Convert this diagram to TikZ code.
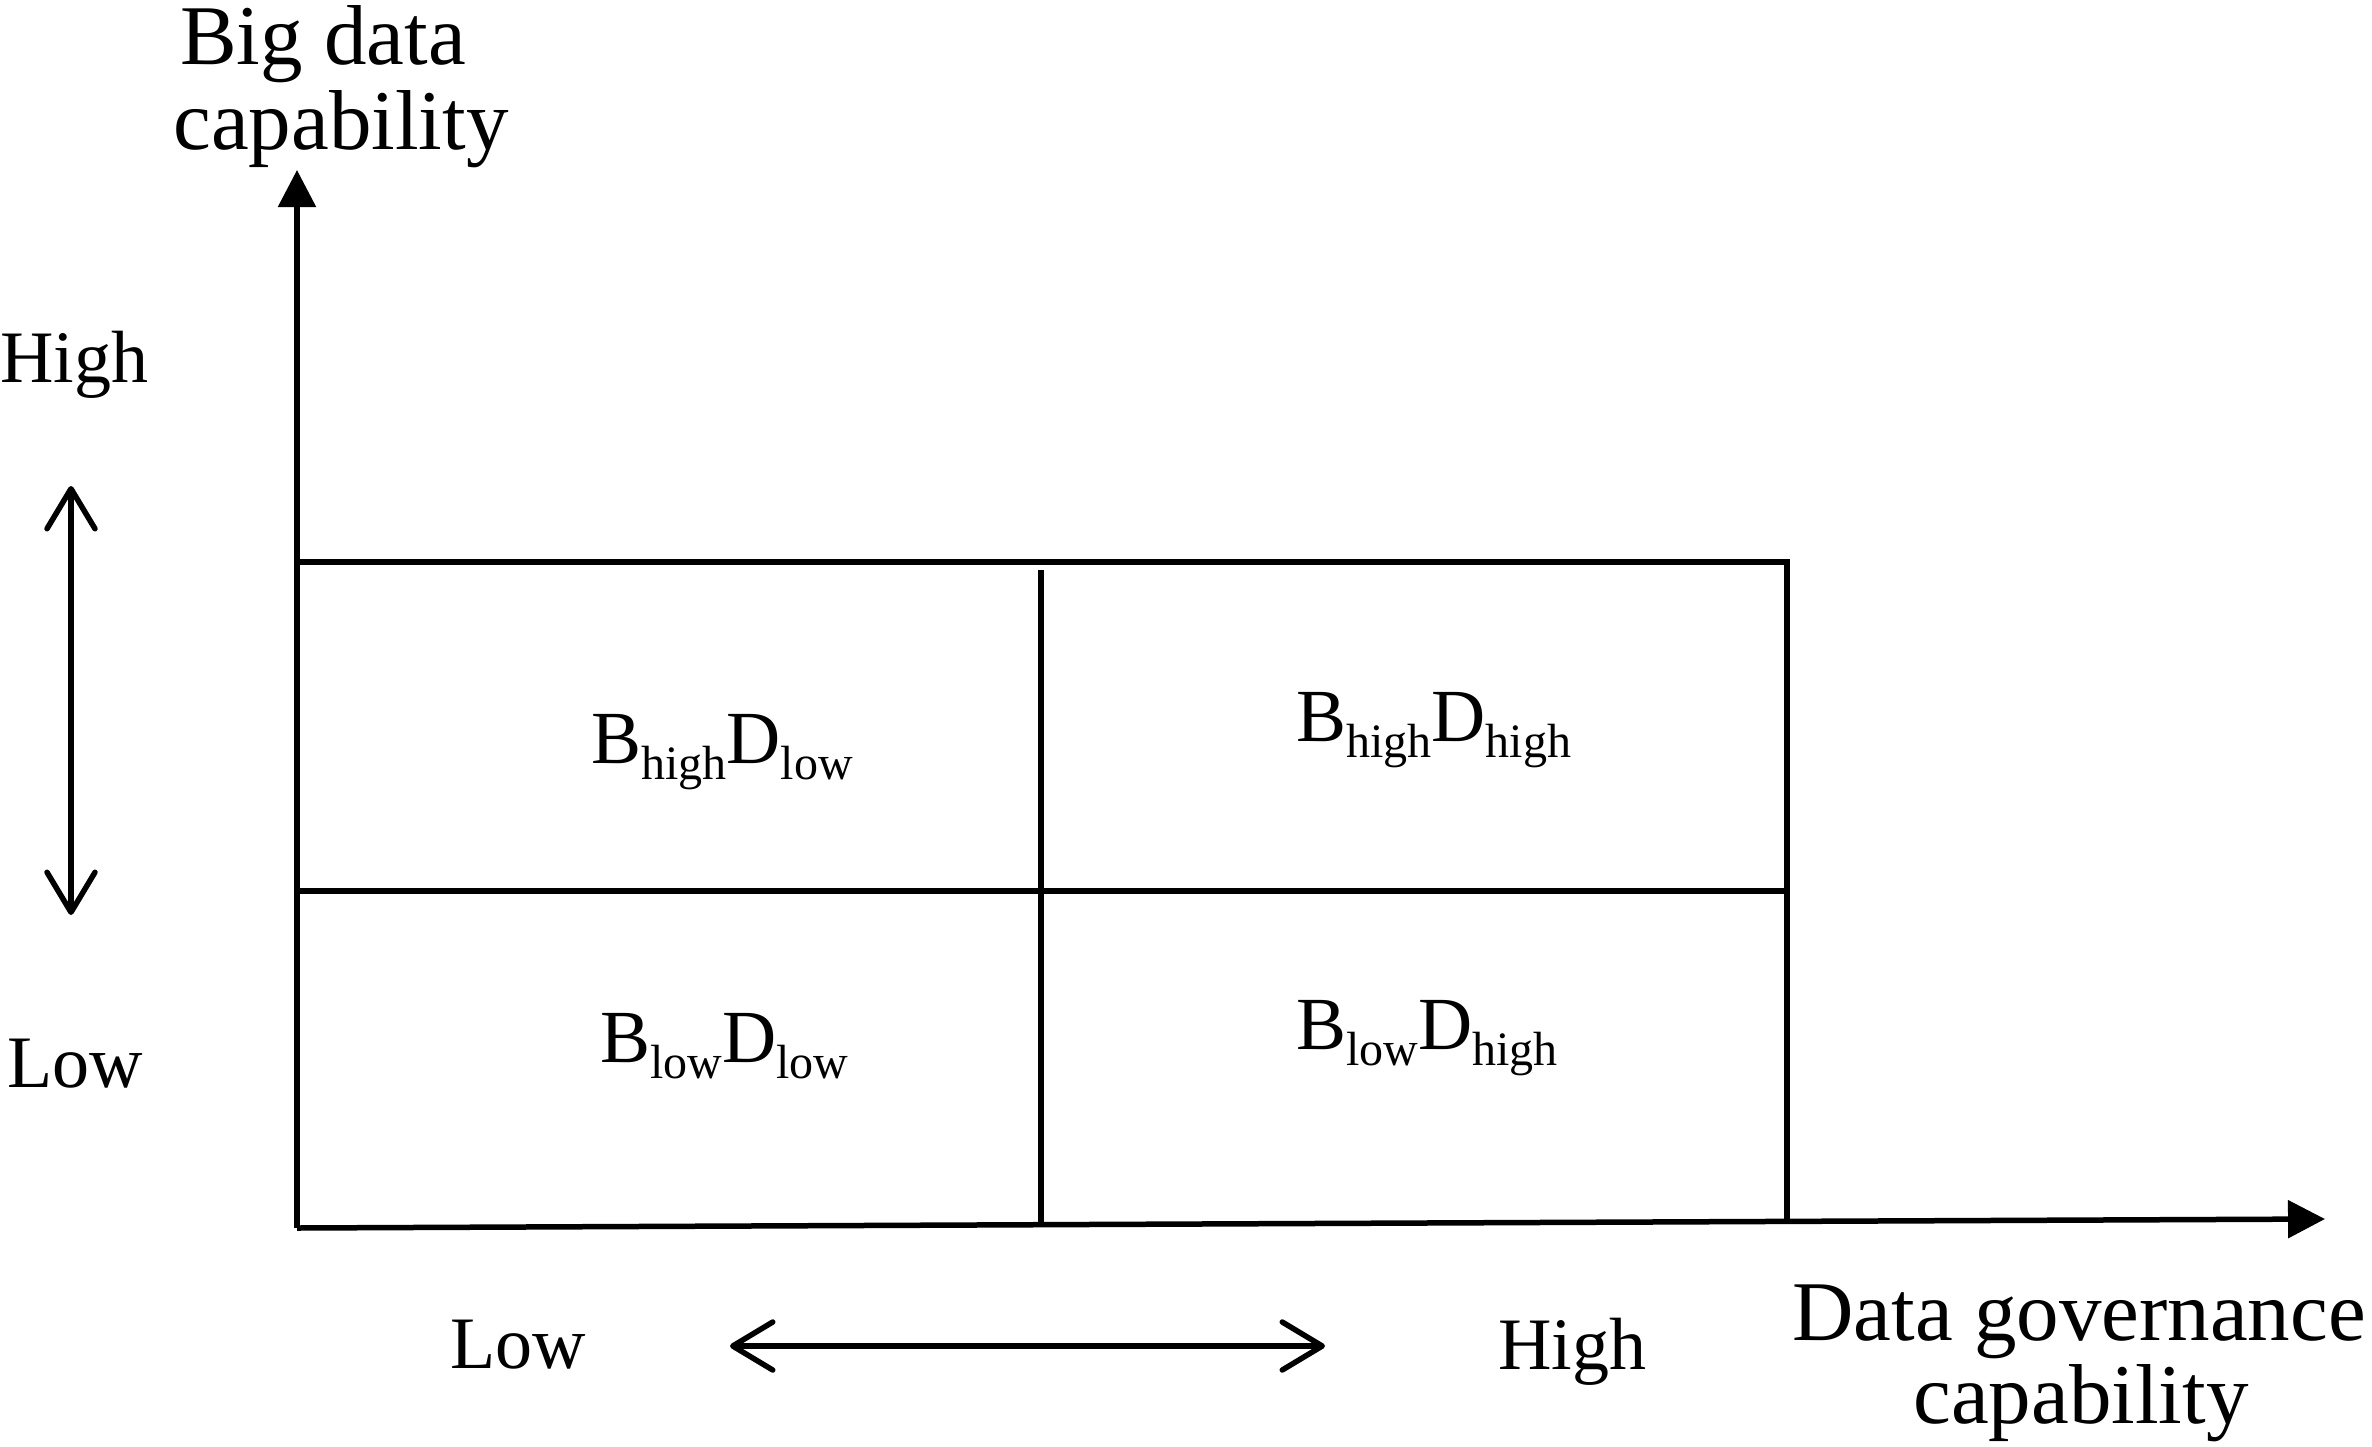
\documentclass[tikz,border=0pt]{standalone}
\usepackage{fontspec}
\setmainfont{Liberation Serif}
\usetikzlibrary{arrows.meta}
\newcommand\qsub[1]{\raisebox{-16pt}{\fontsize{48}{48}\selectfont #1}}
\begin{document}
\begin{tikzpicture}[x=1pt,y=-1pt,
  gridline/.style={line width=5.5pt},
  axisarrow/.style={line width=5.5pt,-{Triangle[length=37pt,width=37pt]}},
  dblarrow/.style={line width=5.5pt,line cap=round,{Straight Barb[length=40pt,width=48pt,round]}-{Straight Barb[length=40pt,width=48pt,round]}},
  biglabel/.style={inner sep=0pt,anchor=base,font=\fontsize{85}{87}\selectfont},
  levellabel/.style={inner sep=0pt,anchor=base west,font=\fontsize{74}{74}\selectfont},
  quadlabel/.style={inner sep=0pt,anchor=base west,font=\fontsize{75}{75}\selectfont}]
\useasboundingbox (0,0) rectangle (2372,1446);

% coordinates
\coordinate (O) at (297,1228);
\coordinate (ytip) at (297,170);
\coordinate (xtip) at (2325,1219);
\coordinate (TL) at (297,562);
\coordinate (TR) at (1787,562);
\coordinate (BR) at (1787,1222);
\coordinate (ML) at (297,891);
\coordinate (MR) at (1787,891);
\coordinate (VT) at (1041,570);
\coordinate (VB) at (1041,1225);
\coordinate (la) at (71,486);
\coordinate (lb) at (71,915);
\coordinate (ba) at (730,1346);
\coordinate (bb) at (1325,1346);

% axes
\draw[axisarrow] (O) -- (ytip);
\draw[axisarrow] (O) -- (xtip);

% grid
\draw[gridline] (TL) -- (TR) -- (BR);
\draw[gridline] (ML) -- (MR);
\draw[gridline] (VT) -- (VB);

% double arrows
\draw[dblarrow] (la) -- (lb);
\draw[dblarrow] (ba) -- (bb);

% axis titles
\node[biglabel] (yt1) at (323,64) {Big data};
\node[biglabel] (yt2) at (341,149) {capability};
\node[biglabel] (xt1) at (2079,1340) {Data governance};
\node[biglabel] (xt2) at (2081,1423) {capability};

% level labels
\node[levellabel] (yhigh) at (0,382) {High};
\node[levellabel] (ylow) at (7,1087) {Low};
\node[levellabel] (xlow) at (450,1368) {Low};
\node[levellabel] (xhigh) at (1498,1369) {High};

% quadrant labels
\node[quadlabel] (q1) at (591,763) {B\qsub{high}D\qsub{low}};
\node[quadlabel] (q2) at (1296,741) {B\qsub{high}D\qsub{high}};
\node[quadlabel] (q3) at (600,1062) {B\qsub{low}D\qsub{low}};
\node[quadlabel] (q4) at (1296,1049) {B\qsub{low}D\qsub{high}};
\end{tikzpicture}
\end{document}
